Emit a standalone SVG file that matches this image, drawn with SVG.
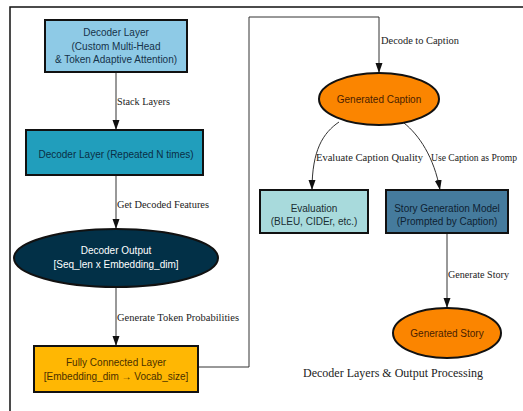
<svg xmlns="http://www.w3.org/2000/svg" width="523" height="411" viewBox="0 0 523 411">
<style>
.node{stroke:#111;stroke-width:2}
.nt{font-family:"Liberation Sans",Arial,sans-serif;font-size:10px;text-anchor:middle}
.el{font-family:"Liberation Serif","Times New Roman",serif;font-size:11px;fill:#222}
.edge{fill:none;stroke:#333;stroke-width:1}
.frame{stroke:#111;stroke-width:1.5;fill:none}
</style>
<defs>
<marker id="arr" viewBox="0 0 10 10" refX="10" refY="5" markerWidth="10" markerHeight="10" markerUnits="userSpaceOnUse" orient="auto">
<path d="M0,1.5 L10,5 L0,8.5 Z" fill="#111"/>
</marker>
</defs>
<rect width="523" height="411" fill="#fff"/>
<path class="frame" d="M10,411 L10,7 L523,7"/>
<g id="connectors">
<path class="edge" d="M116,72 L116,130" marker-end="url(#arr)"/>
<text class="el" x="117" y="104.5" textLength="53" lengthAdjust="spacingAndGlyphs">Stack Layers</text>
<path class="edge" d="M116,175 L116,229" marker-end="url(#arr)"/>
<text class="el" x="117" y="208" textLength="92" lengthAdjust="spacingAndGlyphs">Get Decoded Features</text>
<path class="edge" d="M116,287 L116,346" marker-end="url(#arr)"/>
<text class="el" x="117" y="320.5" textLength="122" lengthAdjust="spacingAndGlyphs">Generate Token Probabilities</text>
<path class="edge" d="M198,367 L249,367 L249,17 L379,17 L379,73" marker-end="url(#arr)"/>
<text class="el" x="381" y="44" textLength="78" lengthAdjust="spacingAndGlyphs">Decode to Caption</text>
<path class="edge" d="M339,122 C323,133 312,150 312,190" marker-end="url(#arr)"/>
<text class="el" x="316" y="161" textLength="107" lengthAdjust="spacingAndGlyphs">Evaluate Caption Quality</text>
<path class="edge" d="M404,123 C419,135 434,157 440,190" marker-end="url(#arr)"/>
<text class="el" x="431" y="161" font-size="10" textLength="86" lengthAdjust="spacingAndGlyphs" style="font-size:10px">Use Caption as Promp</text>
<path class="edge" d="M447,233 L447,308" marker-end="url(#arr)"/>
<text class="el" x="448" y="278" textLength="61" lengthAdjust="spacingAndGlyphs">Generate Story</text>
</g>
<g id="decoder_layer">
<rect class="node" x="45" y="20" width="142" height="52" fill="#8ecae6"/>
<text class="nt" x="116" y="36" fill="#15324a">Decoder Layer</text>
<text class="nt" x="116" y="49.5" fill="#15324a">(Custom Multi-Head</text>
<text class="nt" x="116" y="63" fill="#15324a">&amp; Token Adaptive Attention)</text>
</g>
<g id="decoder_stack">
<rect class="node" x="26" y="130" width="177" height="45" fill="#219ebc"/>
<text class="nt" x="116" y="158" fill="#0a2e45">Decoder Layer (Repeated N times)</text>
</g>
<g id="decoder_output">
<ellipse class="node" cx="116" cy="258" rx="102" ry="29" fill="#023047"/>
<text class="nt" x="116" y="254" fill="#fff">Decoder Output</text>
<text class="nt" x="116" y="268" fill="#fff">[Seq_len x Embedding_dim]</text>
</g>
<g id="fc_layer">
<rect class="node" x="34" y="346" width="164" height="46" fill="#ffb703"/>
<text class="nt" x="116" y="365.5" fill="#4a3000">Fully Connected Layer</text>
<text class="nt" x="116" y="379.5" fill="#4a3000">[Embedding_dim → Vocab_size]</text>
</g>
<g id="generated_caption">
<ellipse class="node" cx="379" cy="99" rx="60" ry="26" fill="#fb8500"/>
<text class="nt" x="379" y="102.5" fill="#4a1e00">Generated Caption</text>
</g>
<g id="evaluation">
<rect class="node" x="260" y="190" width="108" height="43" fill="#a8dadc"/>
<text class="nt" x="314" y="212" fill="#1a2e33">Evaluation</text>
<text class="nt" x="314" y="225" fill="#1a2e33">(BLEU, CIDEr, etc.)</text>
</g>
<g id="story_model">
<rect class="node" x="386" y="190" width="122" height="43" fill="#457b9d"/>
<text class="nt" x="447" y="212" fill="#0e2233">Story Generation Model</text>
<text class="nt" x="447" y="225" fill="#0e2233">(Prompted by Caption)</text>
</g>
<g id="generated_story">
<ellipse class="node" cx="447" cy="333" rx="54" ry="25" fill="#fb8500"/>
<text class="nt" x="447" y="336.5" fill="#4a1e00">Generated Story</text>
</g>
<text x="393" y="377" font-family="'Liberation Serif','Times New Roman',serif" font-size="13" fill="#222" text-anchor="middle" textLength="180" lengthAdjust="spacingAndGlyphs">Decoder Layers &amp; Output Processing</text>
</svg>
